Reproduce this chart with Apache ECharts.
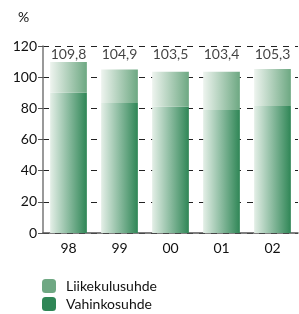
<!DOCTYPE html>
<html>
<head>
<meta charset="utf-8">
<script src="https://cdn.jsdelivr.net/npm/echarts@6/dist/echarts.min.js"></script>
<style>
html, body { margin: 0; padding: 0; background: #fff; }
#chart { width: 299px; height: 314px; }
</style>
</head>
<body>
<div id="chart"></div>
<script>
// vuodet ja sarjat
const years = ['98', '99', '00', '01', '02'];
const vahinkosuhde = [90, 83.5, 81, 79, 81.5];
const liikekulusuhde = [19.8, 21.4, 22.5, 24.4, 23.8];
const totals = [109.8, 104.9, 103.5, 103.4, 105.3];
const labelLevel = 114.5;

const font = 'Lato, "DejaVu Sans", sans-serif';

const chart = echarts.init(document.getElementById('chart'));
chart.setOption({
    animation: false,
    title: {
        text: '%', left: 13, top: 5,
        textStyle: { fontFamily: font, fontSize: 14, fontWeight: 'normal', color: '#111' }
    },
    grid: { left: 43, right: 1, top: 46, bottom: 81 },
    legend: {
        orient: 'vertical', left: 42, top: 279, height: 40, padding: 0,
        itemWidth: 14, itemHeight: 14, itemGap: 4,
        data: [
            { name: 'Liikekulusuhde', itemStyle: { color: '#6fa883' } },
            { name: 'Vahinkosuhde', itemStyle: { color: '#2f8656' } }
        ],
        textStyle: { fontFamily: font, fontSize: 14, color: '#111', lineHeight: 14, padding: [0, 0, 0, 5] }
    },
    xAxis: {
        type: 'category',
        data: years,
        axisLine: { lineStyle: { color: '#555', width: 1.5 } },
        axisTick: { inside: true, length: 4, lineStyle: { color: '#555' } },
        axisLabel: { fontFamily: font, fontSize: 14, color: '#111', margin: 8 }
    },
    yAxis: {
        type: 'value', min: 0, max: 120, interval: 20,
        axisLine: { show: true, lineStyle: { color: '#777', width: 1.5 } },
        axisTick: { show: true, length: 5, lineStyle: { color: '#555' } },
        axisLabel: { fontFamily: font, fontSize: 14, color: '#111', margin: 6 },
        splitLine: { lineStyle: { color: '#222', type: [6, 6], width: 1 } }
    },
    series: [
        {
            name: 'Vahinkosuhde', type: 'bar', stack: 'a', barWidth: '72%',
            data: vahinkosuhde,
            itemStyle: {
                color: new echarts.graphic.LinearGradient(0, 0, 1, 0, [
                    { offset: 0, color: '#e4efe7' },
                    { offset: 1, color: '#2f8656' }
                ])
            }
        },
        {
            name: 'Liikekulusuhde', type: 'bar', stack: 'a',
            data: liikekulusuhde,
            itemStyle: {
                color: new echarts.graphic.LinearGradient(0, 0, 1, 0, [
                    { offset: 0, color: '#eef4ef' },
                    { offset: 1, color: '#6da882' }
                ])
            }
        },
        {
            type: 'scatter', symbolSize: 0, silent: true,
            data: totals.map(() => labelLevel),
            label: {
                show: true, position: 'inside',
                fontFamily: font, fontSize: 14, color: '#111',
                formatter: p => totals[p.dataIndex].toFixed(1).replace('.', ',')
            }
        }
    ]
});
</script>
</body>
</html>
